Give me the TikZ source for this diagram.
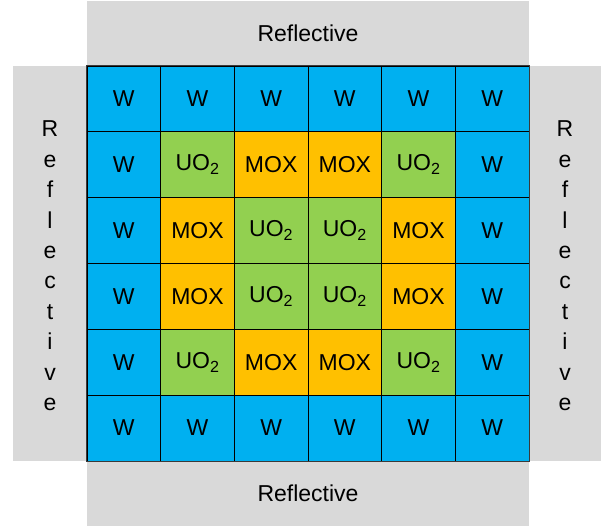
\documentclass[tikz,border=0pt]{standalone}
\usepackage{fontspec}
\setmainfont{Liberation Sans}
\usetikzlibrary{positioning}
\definecolor{wblue}{HTML}{00B0F0}
\definecolor{uogreen}{HTML}{92D050}
\definecolor{moxorange}{HTML}{FFC000}
\definecolor{reflgray}{HTML}{D9D9D9}
\definecolor{rimgray}{HTML}{3A3A3A}
\tikzset{
    cell/.style={draw=black, line width=0.8pt, minimum width=73.67pt, minimum height=65.83pt,
        inner sep=0pt, font=\fontsize{23}{27}\selectfont},
    wcell/.style={cell, fill=wblue},
    uocell/.style={cell, fill=uogreen},
    moxcell/.style={cell, fill=moxorange},
    panel/.style={fill=reflgray, inner sep=0pt, font=\fontsize{23}{27}\selectfont},
    letter/.style={anchor=base, inner sep=0pt, font=\fontsize{23}{27}\selectfont}
}
\newcommand{\uotext}{UO\textsubscript{2}}

\begin{document}
\begin{tikzpicture}[x=1pt, y=1pt]
    \useasboundingbox (0,0) rectangle (601,526);
    % reflective boundaries
    \node[panel, minimum width=442pt, minimum height=65pt] (top) at (308,492.5) {Reflective};
    \node[panel, minimum width=442pt, minimum height=65pt] (bottom) at (308,32.5) {Reflective};
    \node[panel, minimum width=74pt, minimum height=395pt] (left) at (50,262.5) {};
    \node[panel, minimum width=72pt, minimum height=395pt] (right) at (565,262.5) {};
    \foreach \ch [count=\i] in {R,e,f,l,e,c,t,i,v,e} {
        \node[letter] (lref-\i) at (50,{389.3-30.44*(\i-1)}) {\ch};
        \node[letter] (rref-\i) at (565,{389.3-30.44*(\i-1)}) {\ch};
    }
    % assembly layout
    \foreach \row [count=\r] in {{w,w,w,w,w,w},{w,uo,mox,mox,uo,w},{w,mox,uo,uo,mox,w},
                                 {w,mox,uo,uo,mox,w},{w,uo,mox,mox,uo,w},{w,w,w,w,w,w}} {
        \foreach \t [count=\c] in \row {
            \def\lbl{W}
            \def\tw{uo}\ifx\t\tw\def\lbl{\uotext}\fi
            \def\tm{mox}\ifx\t\tm\def\lbl{MOX}\fi
            \node[\t cell] (cell-\r-\c) at ({87+73.67*(\c-0.5)},{460-65.83*(\r-0.5)}) {\lbl};
        }
    }
    \draw[rimgray, line width=1.5pt] (cell-1-1.north west) rectangle (cell-6-6.south east);
\end{tikzpicture}
\end{document}
